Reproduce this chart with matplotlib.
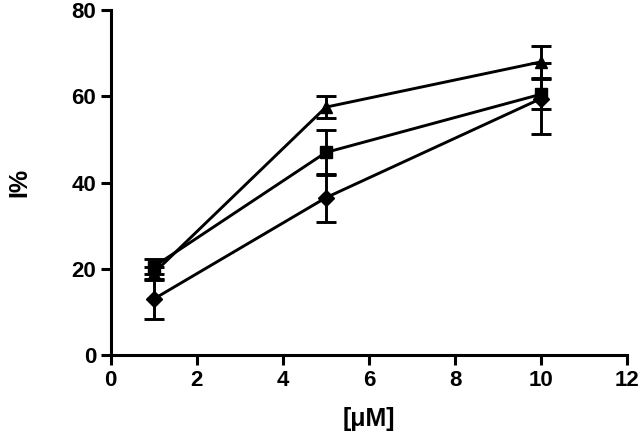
import matplotlib.pyplot as plt

plt.rcParams['font.family'] = ['Liberation Sans', 'DejaVu Sans']
plt.rcParams['font.weight'] = 'bold'

conc = [1, 5, 10]

tri_mean = [19.0, 57.5, 68.0]
tri_err = [1.5, 2.6, 3.7]

sq_mean = [20.5, 47.0, 60.5]
sq_err = [1.8, 5.2, 3.5]

dia_mean = [13.0, 36.5, 59.5]
dia_err = [4.7, 5.6, 8.2]

xticks = [0, 2, 4, 6, 8, 10, 12]
yticks = [0, 20, 40, 60, 80]

fig = plt.figure(figsize=(6.4, 4.4), dpi=100)
ax = fig.add_axes([0.173, 0.193, 0.807, 0.784])

series = [(tri_mean, tri_err, '^'), (sq_mean, sq_err, 's'), (dia_mean, dia_err, 'D')]
for mean, err, mk in series:
    ax.errorbar(conc, mean, yerr=err, color='black', marker=mk, markersize=8,
                linewidth=2.1, elinewidth=2.1, capsize=7, capthick=2.1, clip_on=False)

ax.set_xlim(0, 12)
ax.set_ylim(0, 80)
ax.set_xticks(xticks)
ax.set_yticks(yticks)
ax.spines['top'].set_visible(False)
ax.spines['right'].set_visible(False)
ax.spines['left'].set_linewidth(2.2)
ax.spines['bottom'].set_linewidth(2.2)
ax.tick_params(width=2.2, length=7, labelsize=16)
for lab in ax.get_xticklabels() + ax.get_yticklabels():
    lab.set_fontweight('bold')

ax.set_xlabel('[\u03bcM]', fontsize=18, fontweight='bold', labelpad=12)
ax.set_ylabel('I%', fontsize=18, fontweight='bold', labelpad=29)

fig.savefig('out.png', dpi=100)
